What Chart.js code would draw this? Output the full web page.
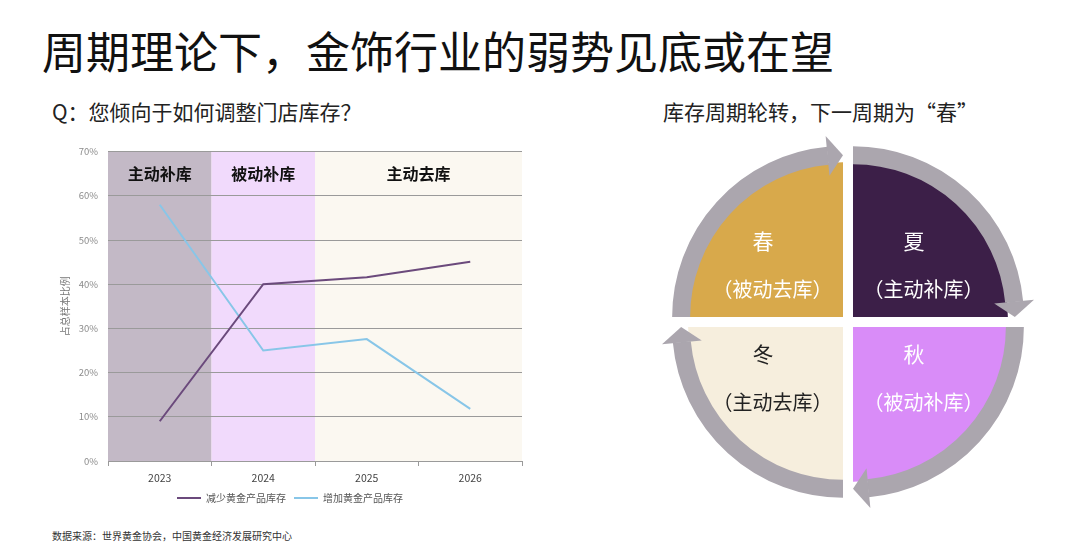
<!DOCTYPE html>
<html>
<head>
<meta charset="utf-8">
<script src="https://cdn.jsdelivr.net/npm/chart.js@4.4.1/dist/chart.umd.min.js"></script>
<style>
  html, body { margin: 0; padding: 0; background: #ffffff; }
  body { width: 1080px; height: 554px; position: relative; overflow: hidden;
         font-family: "Noto Sans CJK SC", "Noto Sans", sans-serif; }
  .txt { position: absolute; white-space: nowrap; color: #111; }
  #title { left: 42px; top: 28px; font-size: 44px; line-height: 44px; }
  #subL { left: 52px; top: 101px; font-size: 21px; line-height: 21px; color: #222; }
  #subR { left: 663px; top: 101px; font-size: 21px; line-height: 21px; color: #222; }
  #foot { left: 52px; top: 530px; font-size: 10px; line-height: 12px; color: #333; }
  #lineCanvas { position: absolute; left: 40px; top: 136px; }
  #cycleCanvas { position: absolute; left: 648px; top: 122px; }
</style>
</head>
<body>
<div class="txt" id="title">周期理论下，金饰行业的弱势见底或在望</div>
<div class="txt" id="subL">Q：您倾向于如何调整门店库存？</div>
<div class="txt" id="subR">库存周期轮转，下一周期为“春”</div>
<div class="txt" id="foot">数据来源：世界黄金协会，中国黄金经济发展研究中心</div>
<canvas id="lineCanvas" width="500" height="380"></canvas>
<canvas id="cycleCanvas" width="400" height="400"></canvas>
<script>
// ---------- data ----------
const years = ['2023', '2024', '2025', '2026'];
const decreaseStock = [9, 40, 41.6, 45.1];
const increaseStock = [58, 25, 27.6, 11.8];
const seriesNames = ['减少黄金产品库存', '增加黄金产品库存'];
const yTickValues = [0, 10, 20, 30, 40, 50, 60, 70];
const yAxisTitle = '占总样本比例';

const phaseLabels = ['主动补库', '被动补库', '主动去库'];
const phaseFrom = ['2023', '2024', '2025'];
const phaseTo = ['2023', '2024', '2026'];

const seasons = ['夏', '秋', '冬', '春'];
const seasonPhases = ['（主动补库）', '（被动补库）', '（主动去库）', '（被动去库）'];
const seasonShares = [1, 1, 1, 1];

// ---------- styles ----------
const FONT = '"Noto Sans CJK SC", "Noto Sans", sans-serif';
const bandColors = ['#c3b9c6', '#f1dafc', '#fbf8f1'];
const lineColors = ['#6b4a7c', '#88c6e8'];
const seasonColors = ['#3c1f48', '#d98cf8', '#f6eedd', '#d8a94b'];
const seasonTextColors = ['#ffffff', '#ffffff', '#222222', '#ffffff'];
const ringColor = '#aba6ae';

// ---------- line chart ----------
const bandPlugin = {
  id: 'bands',
  beforeDraw(chart) {
    const { ctx, chartArea: { top, bottom }, scales: { x } } = chart;
    const half = (x.getPixelForValue(1) - x.getPixelForValue(0)) / 2;
    ctx.save();
    phaseLabels.forEach((lab, i) => {
      const x0 = x.getPixelForValue(years.indexOf(phaseFrom[i])) - half;
      const x1 = x.getPixelForValue(years.indexOf(phaseTo[i])) + half;
      ctx.fillStyle = bandColors[i];
      ctx.fillRect(x0, top, x1 - x0, bottom - top);
    });
    ctx.restore();
  },
  beforeDatasetsDraw(chart) {
    const { ctx, chartArea: { top }, scales: { x } } = chart;
    const half = (x.getPixelForValue(1) - x.getPixelForValue(0)) / 2;
    ctx.save();
    ctx.fillStyle = '#111';
    ctx.font = 'bold 16px ' + FONT;
    ctx.textAlign = 'center';
    ctx.textBaseline = 'middle';
    phaseLabels.forEach((lab, i) => {
      const x0 = x.getPixelForValue(years.indexOf(phaseFrom[i])) - half;
      const x1 = x.getPixelForValue(years.indexOf(phaseTo[i])) + half;
      ctx.fillText(lab, (x0 + x1) / 2, top + 22);
    });
    ctx.restore();
  }
};

new Chart(document.getElementById('lineCanvas'), {
  type: 'line',
  data: {
    labels: years,
    datasets: [
      { label: seriesNames[0], data: decreaseStock, borderColor: lineColors[0], backgroundColor: lineColors[0],
        borderWidth: 2, pointRadius: 0, tension: 0 },
      { label: seriesNames[1], data: increaseStock, borderColor: lineColors[1], backgroundColor: lineColors[1],
        borderWidth: 2, pointRadius: 0, tension: 0 }
    ]
  },
  options: {
    responsive: false,
    animation: false,
    events: [],
    layout: { padding: { left: 18, right: 18, top: 0, bottom: 3 } },
    plugins: {
      legend: {
        position: 'bottom',
        labels: {
          usePointStyle: true, pointStyle: 'line', pointStyleWidth: 24,
          padding: 8, color: '#555', font: { family: FONT, size: 10 }
        }
      },
      tooltip: { enabled: false }
    },
    scales: {
      x: {
        offset: true,
        grid: { offset: true, drawOnChartArea: false, drawTicks: true, tickLength: 5, color: '#9a9a9a' },
        border: { display: true, color: '#9a9a9a', width: 1 },
        ticks: { color: '#444', padding: 6, font: { family: FONT, size: 10.5 } },
        afterFit(scale) { scale.height = 24; }
      },
      y: {
        min: 0, max: 70,
        afterBuildTicks(scale) { scale.ticks = yTickValues.map(v => ({ value: v })); },
        grid: { drawTicks: false, color: '#9a9a9a', lineWidth: 1 },
        border: { display: false },
        ticks: { color: '#8c8c8c', padding: 10, font: { family: FONT, size: 9.5 },
                 callback: v => v + '%' },
        title: { display: true, text: yAxisTitle, color: '#777', font: { family: FONT, size: 10 },
                 padding: { top: 1, bottom: 0 } },
        afterFit(scale) { scale.width = 50; }
      }
    }
  },
  plugins: [bandPlugin]
});

// ---------- cycle diagram ----------
const ringPlugin = {
  id: 'ring',
  afterDatasetsDraw(chart) {
    const { ctx } = chart;
    const meta = chart.getDatasetMeta(0);
    ctx.save();
    meta.data.forEach((arc, i) => {
      const { x, y, startAngle, endAngle, outerRadius } =
        arc.getProps(['x', 'y', 'startAngle', 'endAngle', 'outerRadius'], true);
      const mid = (startAngle + endAngle) / 2;
      const d = (arc.options.offset || 0) / 4;
      const cx = x + Math.cos(mid) * d;
      const cy = y + Math.sin(mid) * d;
      const rMid = outerRadius + 7;
      const head = 15 / rMid;
      // ring body
      ctx.beginPath();
      ctx.arc(cx, cy, rMid, startAngle, endAngle - head);
      ctx.lineWidth = 18;
      ctx.lineCap = 'butt';
      ctx.strokeStyle = ringColor;
      ctx.stroke();
      // arrow head
      const a0 = endAngle - head - 0.003;
      ctx.beginPath();
      ctx.moveTo(cx + Math.cos(a0) * (rMid + 20), cy + Math.sin(a0) * (rMid + 20));
      ctx.lineTo(cx + Math.cos(endAngle) * rMid, cy + Math.sin(endAngle) * rMid);
      ctx.lineTo(cx + Math.cos(a0) * (rMid - 20), cy + Math.sin(a0) * (rMid - 20));
      ctx.closePath();
      ctx.fillStyle = ringColor;
      ctx.fill();
      // labels
      const sx = Math.sign(Math.cos(mid));
      const sy = Math.sign(Math.sin(mid));
      const bx = cx + sx * 70.5;
      const by = cy + sy * 51.5;
      ctx.fillStyle = seasonTextColors[i];
      ctx.textAlign = 'center';
      ctx.textBaseline = 'middle';
      ctx.font = '21px ' + FONT;
      ctx.fillText(seasons[i], bx - 9.5, by - 24);
      ctx.font = '20px ' + FONT;
      ctx.fillText(seasonPhases[i], bx, by + 24);
    });
    ctx.restore();
  }
};

new Chart(document.getElementById('cycleCanvas'), {
  type: 'pie',
  data: {
    labels: seasons,
    datasets: [{
      data: seasonShares,
      backgroundColor: seasonColors,
      borderWidth: 0,
      offset: 28.28,
      hoverOffset: 28.28
    }]
  },
  options: {
    responsive: false,
    animation: false,
    events: [],
    layout: { padding: 31 },
    plugins: { legend: { display: false }, tooltip: { enabled: false } }
  },
  plugins: [ringPlugin]
});
</script>
</body>
</html>
